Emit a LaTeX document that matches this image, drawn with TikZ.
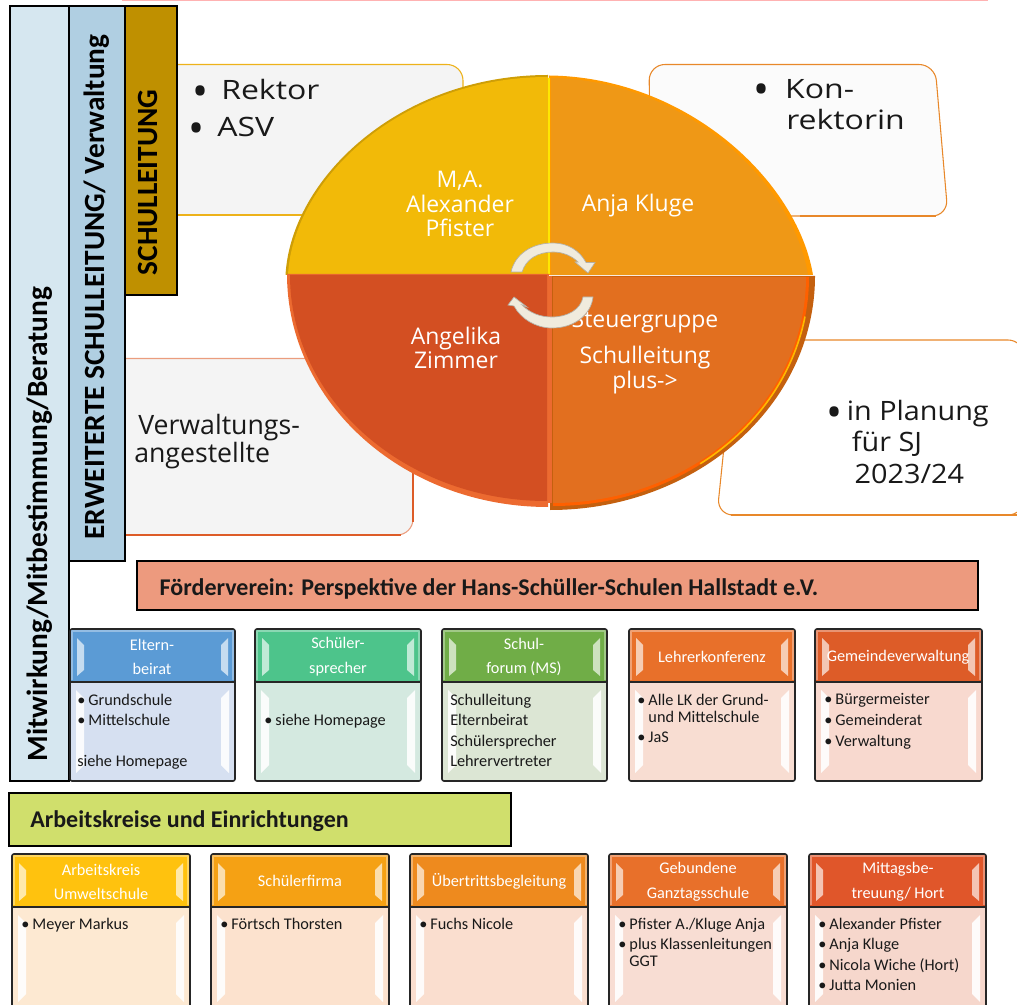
\documentclass[tikz,border=0pt]{standalone}
\usepackage{fontspec}
\setmainfont{Carlito}
\newfontfamily\opn{Open Sans}
\newfontfamily\opnw[FakeStretch=1.2]{Open Sans}
\newfontfamily\opnm[FakeStretch=1.08]{Open Sans}
\definecolor{pieul}{HTML}{F2BA08}
\definecolor{pieur}{HTML}{EF9816}
\definecolor{piell}{HTML}{D34F22}
\definecolor{pielr}{HTML}{E26F1F}
\definecolor{arrowcol}{HTML}{F0EBDD}
\definecolor{callfill}{HTML}{F4F4F4}
\definecolor{callwhite}{HTML}{FBFBFB}
\definecolor{barA}{HTML}{D6E7F0}
\definecolor{barB}{HTML}{B0CFE2}
\definecolor{barC}{HTML}{BF9000}
\definecolor{titleA}{HTML}{ED9A7E}
\definecolor{titleB}{HTML}{D0DF6C}
\definecolor{linered}{HTML}{DD5C28}
\definecolor{lineorange}{HTML}{E8882A}
\definecolor{linegold}{HTML}{EDB21A}
\definecolor{rimlr}{HTML}{C4600F}
\definecolor{rimll}{HTML}{EC6A30}
\newcommand{\bl}[1]{\makebox[8.4pt][l]{•}#1}
\newcommand{\ind}{\hspace*{8.4pt}}
\newcommand{\kb}{\makebox[8pt][c]{\smash{\raisebox{-5pt}{\fontsize{32}{32}\selectfont\opn •}}}}
\begin{document}
\begin{tikzpicture}[x=0.75pt,y=-0.75pt,
  bar/.style={draw=black,line width=1.5pt},
  bartext/.style={rotate=90,font=\bfseries\fontsize{#1}{#1}\selectfont,text=black,inner sep=0},
  call/.style={draw=#1,line width=.8pt,rounded corners=12pt},
  calltext/.style={font=\opnw\fontsize{20}{23.5}\selectfont,align=left,anchor=north west,inner sep=0,text=black!90},
  pietext/.style={font=\opn\fontsize{17.2}{18.4}\selectfont,text=white,align=center,inner sep=0},
  headtext/.style={font=\fontsize{12.2}{18.6}\selectfont,text=white,align=center,inner sep=0},
  bodytext/.style={font=\fontsize{12.2}{15.4}\selectfont,text=black!90,align=left,anchor=north west,inner sep=0},
  titlebox/.style={draw=black,line width=1.2pt},
  titletext/.style={font=\bfseries\fontsize{18}{20}\selectfont,inner sep=0,text=black!90},
]
\useasboundingbox (0,0) rectangle (1017,1005);
\newcommand{\panel}[7]{% x1 x2 ytop ymid ybot headcol bodycol
  \definecolor{hc}{HTML}{#6}\definecolor{bc}{HTML}{#7}
  \fill[bc] (#1,#4) rectangle (#2,#5);
  \fill[hc] (#1,#3) rectangle (#2,#4);
  \draw[white,opacity=.35,line width=2pt] (#1+2,#4-2) -- (#1+2,#3+2) -- (#2-2,#3+2) -- (#2-2,#4-2);
  \fill[white,opacity=.65] (#1+7,#3+9) -- (#1+14,#3+16) -- (#1+14,#4-12) -- (#1+7,#4-6) -- cycle;
  \fill[white,opacity=.65] (#2-7,#3+9) -- (#2-14,#3+16) -- (#2-14,#4-12) -- (#2-7,#4-6) -- cycle;
  \fill[white,opacity=.9] (#1+6,#4+8) -- (#1+14,#4+16) -- (#1+14,#5-16) -- (#1+6,#5-8) -- cycle;
  \fill[white,opacity=.9] (#2-6,#4+8) -- (#2-14,#4+16) -- (#2-14,#5-16) -- (#2-6,#5-8) -- cycle;
  \draw[black!85,line width=1.1pt] (#1,#4) -- (#2,#4);
  \draw[black!85,line width=1.2pt,rounded corners=1.5pt] (#1,#3) rectangle (#2,#5);
}
% top line
\fill[red!30] (122,0) rectangle (988,1);
% callouts
\filldraw[call=linegold,fill=callfill] (150,64.5) -- (463,64.5) -- (463,215) -- (150,215) -- cycle;
\draw[linegold,line width=2pt] (177,215) -- (320,215);
\filldraw[call=lineorange,fill=callwhite] (800,64.5) -- (649,64.5) -- (651,216) -- (948,216) -- (935,64.5) -- cycle;
\draw[lineorange,line width=2pt] (800,216) -- (936,216);
\filldraw[call=linered!60!white,fill=callfill] (100,358.5) -- (413,358.5) -- (413,535) -- (100,535) -- cycle;
\draw[linered,line width=2.2pt] (125,535) -- (401,535);
\draw[linered,line width=1.1pt] (413,440) -- (413,522);
\filldraw[call=lineorange,fill=white] (735,340) -- (1024,340) -- (1024,515) -- (717,515) -- cycle;
\draw[lineorange,line width=2.2pt] (731,515) -- (1017,515);
\node[calltext,anchor=west] (rektor) at (195,89.5) {\kb\hspace{11.5pt}Rektor};
\node[calltext,anchor=west] (asv) at (191,127) {\kb\hspace{11.5pt}ASV};
\node[calltext] (konrektor) at (756,79) {\kb\hspace{13.7pt}Kon-\\\hspace{22.5pt}rektorin};
\node[calltext,font=\opn\fontsize{20}{21}\selectfont] (verw) at (134,414) {\llap{•\hspace{5pt}}\hspace{3pt}Verwaltungs-\\angestellte};
\node[calltext,font=\opnm\fontsize{20}{23.5}\selectfont] (plan) at (829,400) {\kb\hspace{5.2pt}in Planung\\\hspace{17pt}für SJ\\\hspace{19pt}2023/24};
% pie
\fill[pieul!85!black] (285.5,275) .. controls (291,178) and (400,75) .. (548,75) -- (548,275) -- cycle;
\fill[pieul] (288,275) .. controls (293,180) and (400,77) .. (548,77) -- (548,275) -- cycle;
\fill[orange!80!yellow] (549,75.5) .. controls (686,77) and (797,180) .. (813,275) -- (549,275) -- cycle;
\fill[pieur] (551,78) .. controls (685,80) and (793,182) .. (808,275) -- (551,275) -- cycle;
\draw[yellow!90!orange,line width=1.5pt] (548.5,78) -- (548.5,274);
\fill[rimll] (287,274) arc[start angle=180,end angle=90,x radius=261,y radius=233] -- (549,274) -- cycle;
\fill[piell] (290,275) arc[start angle=180,end angle=90,x radius=257,y radius=226] -- (547,275) -- cycle;
\fill[rimlr] (550,276) -- (815,276) arc[start angle=0,end angle=90,x radius=265,y radius=234] -- cycle;
\fill[orange!75!red] (553,277) -- (809,277) arc[start angle=0,end angle=90,x radius=256,y radius=229] -- cycle;
\fill[pielr] (553,277) -- (806,277) arc[start angle=0,end angle=90,x radius=253,y radius=226] -- cycle;
\draw[orange!55!yellow,line width=1.2pt] (805,316.6) arc[start angle=10,end angle=55,x radius=255,y radius=228];
\draw[rimll,line width=3pt] (549.5,276) -- (549.5,503);
\node[pietext] (alex) at (460,204) {M,A.\\Alexander\\Pfister};
\node[pietext] (anja) at (638,206) {Anja Kluge};
\node[pietext] (angelika) at (456,348) {Angelika\\Zimmer};
\node[pietext] (steuer) at (645,322) {Steuergruppe};
\node[pietext] (plus) at (645,370) {Schulleitung\\plus->};
% circular arrows
\filldraw[fill=arrowcol,draw=black!25!arrowcol,line width=.5pt] (511,272) .. controls (515,254) and (532,243) .. (553,243) .. controls (568,243) and (580,251) .. (586,262.5) -- (595,262.5) -- (588,273) -- (575,262) -- (578,262) .. controls (572,256) and (563,252) .. (553,252) .. controls (538,252) and (526,259) .. (522,272) -- cycle;
\filldraw[fill=arrowcol,draw=black!25!arrowcol,line width=.5pt] (593,297) .. controls (591,315) and (574,328) .. (552,328) .. controls (536,328) and (521,319) .. (514,306) -- (508,305) -- (514,297) -- (527,307) -- (522,305) .. controls (530,313) and (540,317) .. (552,317) .. controls (568,317) and (581,309) .. (583,297) -- cycle;
% vertical bars
\filldraw[bar,fill=barA] (10,6) rectangle (69,781);
\filldraw[bar,fill=barB] (69,6) rectangle (125,561);
\filldraw[bar,fill=barC] (125,6) rectangle (177,295);
\node[bartext=22] (mit) at (40,524) {Mitwirkung/Mitbestimmung/Beratung};
\node[bartext=22] (erw) at (97,287) {ERWEITERTE SCHULLEITUNG/ Verwaltung};
\node[bartext=22] (sl) at (148,182.5) {SCHULLEITUNG};
% titles
\filldraw[titlebox,fill=titleA] (137,561) rectangle (978,610);
\node[titletext] (foerder) at (489,589) {Förderverein: Perspektive der Hans-Schüller-Schulen Hallstadt e.V.};
\filldraw[titlebox,fill=titleB] (9,793) rectangle (511,846);
\node[titletext,anchor=west] (arbeit) at (30,821) {Arbeitskreise und Einrichtungen};
% row 1
\panel{70}{235}{629}{682}{781}{5B9BD5}{D6E0F1}
\panel{255}{421}{629}{682}{781}{4DC48B}{D4E9E0}
\panel{442}{607}{629}{682}{781}{70AD47}{DCE6D4}
\panel{629}{795}{629}{682}{781}{E8702A}{F8DDD2}
\panel{815}{982}{629}{682}{781}{DD5C28}{F8D9CF}
\node[headtext] (h1) at (152,657) {Eltern-\\beirat};
\node[headtext] (h2) at (338,657) {Schüler-\\sprecher};
\node[headtext] (h3) at (524,657) {Schul-\\forum (MS)};
\node[headtext] (h4) at (712,657) {Lehrerkonferenz};
\node[headtext] (h5) at (898,657) {Gemeindeverwaltung};
\node[bodytext] (b1) at (77,693.5) {\bl{Grundschule}\\\bl{Mittelschule}\\[15.4pt]siehe Homepage};
\node[bodytext] (b2) at (264,713.5) {\bl{siehe Homepage}};
\node[bodytext] (b3) at (450,693.5) {Schulleitung\\Elternbeirat\\Schülersprecher\\Lehrervertreter};
\node[bodytext] (b4) at (637,693.5) {\bl{Alle LK der Grund-}\\[-2.6pt]\ind und Mittelschule\\\bl{JaS}};
\node[bodytext] (b5) at (824,693.5) {\bl{Bürgermeister}\\\bl{Gemeinderat}\\\bl{Verwaltung}};
% row 2
\panel{12}{190}{854}{907}{1010}{FFC20E}{FDE9D2}
\panel{211}{389}{854}{907}{1010}{F5A114}{FCE2CE}
\panel{410}{588}{854}{907}{1010}{EE8A1E}{FADECF}
\panel{609}{787}{854}{907}{1010}{E8702A}{F8DDD3}
\panel{809}{986}{854}{907}{1010}{E0562A}{F6D7CC}
\node[headtext] (k1) at (101,882) {Arbeitskreis\\Umweltschule};
\node[headtext] (k2) at (300,881) {Schülerfirma};
\node[headtext] (k3) at (499,881) {Übertrittsbegleitung};
\node[headtext] (k4) at (698,882) {Gebundene\\Ganztagsschule};
\node[headtext] (k5) at (898,882) {Mittagsbe-\\treuung/ Hort};
\node[bodytext] (c1) at (21,917.5) {\bl{Meyer Markus}};
\node[bodytext] (c2) at (220,917.5) {\bl{Förtsch Thorsten}};
\node[bodytext] (c3) at (419,917.5) {\bl{Fuchs Nicole}};
\node[bodytext] (c4) at (618,917.5) {\bl{Pfister A./Kluge Anja}\\\bl{plus Klassenleitungen}\\[-2.6pt]\ind GGT};
\node[bodytext] (c5) at (818,917.5) {\bl{Alexander Pfister}\\\bl{Anja Kluge}\\\bl{Nicola Wiche (Hort)}\\\bl{Jutta Monien}};
\end{tikzpicture}
\end{document}
